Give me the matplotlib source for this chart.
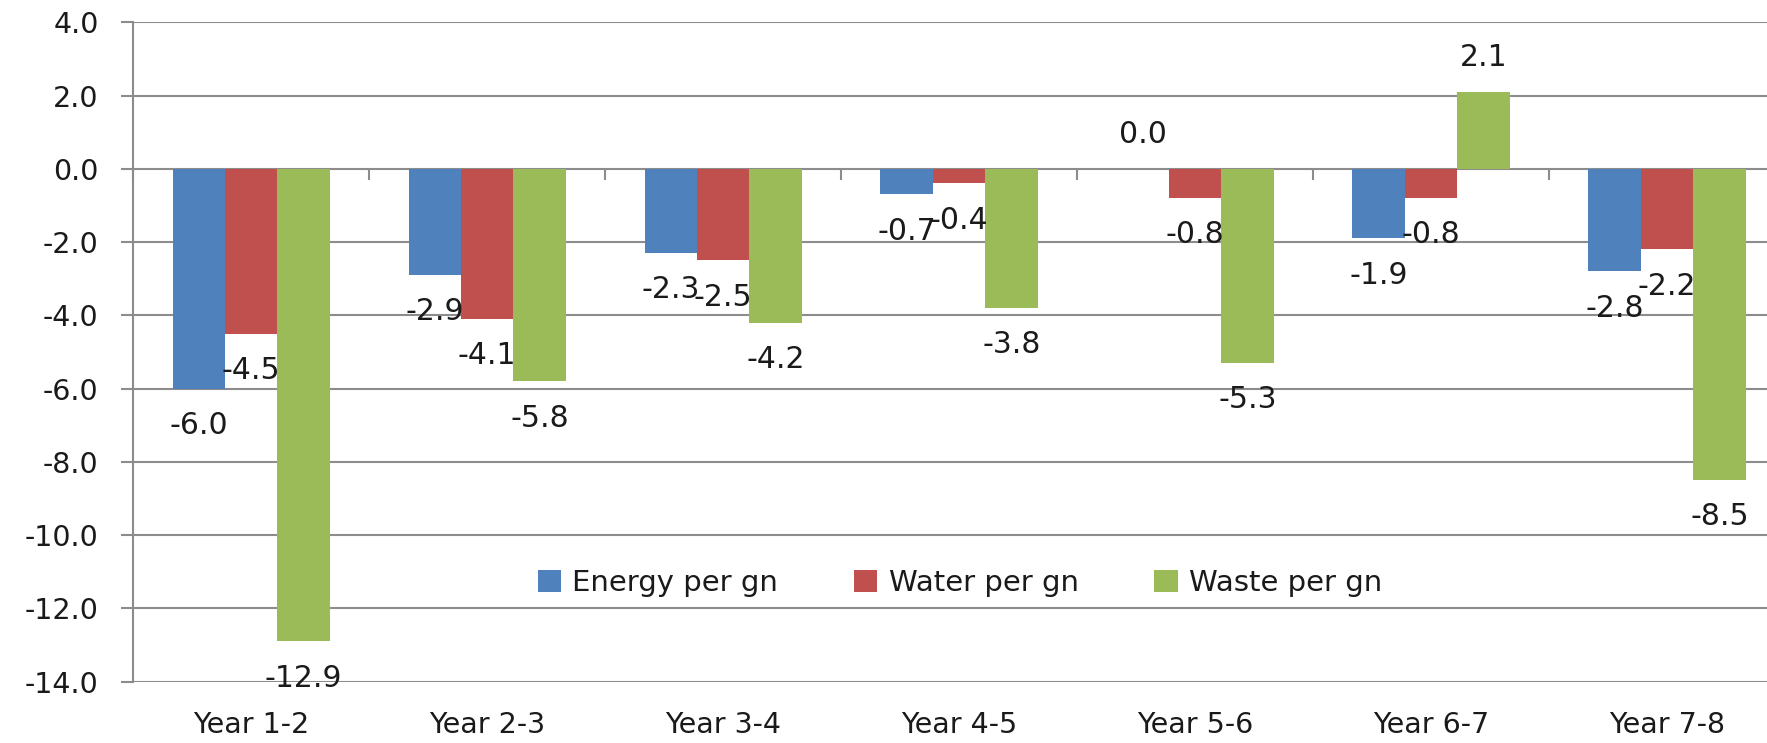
import matplotlib
matplotlib.use("Agg")
import matplotlib.pyplot as plt
import numpy as np
from matplotlib.patches import Patch

categories = ["Year 1-2", "Year 2-3", "Year 3-4", "Year 4-5", "Year 5-6", "Year 6-7", "Year 7-8"]
series_names = ["Energy per gn", "Water per gn", "Waste per gn"]
energy = [-6.0, -2.9, -2.3, -0.7, 0.0, -1.9, -2.8]
water = [-4.5, -4.1, -2.5, -0.4, -0.8, -0.8, -2.2]
waste = [-12.9, -5.8, -4.2, -3.8, -5.3, 2.1, -8.5]
colors = ["#4F81BD", "#C0504D", "#9BBB59"]
y_ticks = [-14.0, -12.0, -10.0, -8.0, -6.0, -4.0, -2.0, 0.0, 2.0, 4.0]

W, H = 1767, 743
fig = plt.figure(figsize=(W / 100, H / 100), dpi=100)
left = 133.3 / W
right = 1785.0 / W
bottom = 1 - 681.7 / H
top = 1 - 22.3 / H
ax = fig.add_axes([left, bottom, right - left, top - bottom])

grid_c = "#8C8C8C"
text_c = "#1A1A1A"
x = np.arange(len(categories))
bw = 1 / 4.5
for i, (vals, name, c) in enumerate(zip([energy, water, waste], series_names, colors)):
    pos = x + (i - 1) * bw
    ax.bar(pos, vals, width=bw, color=c, label=name, zorder=3)
    for px, v in zip(pos, vals):
        if v >= 0:
            ax.annotate(f"{v:.1f}", (px, v), xytext=(0, 14), textcoords="offset points",
                        ha="center", va="bottom", fontsize=21.5, color=text_c, zorder=5)
        else:
            ax.annotate(f"{v:.1f}", (px, v), xytext=(0, -16), textcoords="offset points",
                        ha="center", va="top", fontsize=21.5, color=text_c, zorder=5)

ax.set_xlim(-0.5, len(categories) - 0.5)
ax.set_ylim(-14, 4)
ax.set_yticks(y_ticks)
ax.set_yticklabels([f"{t:.1f}" for t in y_ticks])
ax.yaxis.grid(True, color=grid_c, linewidth=1.5, zorder=0)
ax.set_axisbelow(True)
for s in ["top", "right", "bottom"]:
    ax.spines[s].set_visible(False)
ax.spines["left"].set_color(grid_c)
ax.spines["left"].set_linewidth(1.5)
ax.tick_params(axis="y", length=9, width=1.5, color=grid_c, labelsize=20.5, labelcolor=text_c, pad=16)

ax.set_xticks(x)
ax.set_xticklabels(categories)
ax.tick_params(axis="x", length=0, labelsize=20.5, labelcolor=text_c, pad=21)

# category boundary ticks on the zero line, pointing down
sec = ax.secondary_xaxis(14 / 18)
sec.set_xticks(np.arange(len(categories) + 1) - 0.5)
sec.set_xticklabels([])
sec.tick_params(axis="x", direction="in", length=8, width=1.5, color=grid_c)
for s in sec.spines.values():
    s.set_visible(False)

handles = [Patch(facecolor=c, label=n) for c, n in zip(colors, series_names)]
leg = fig.legend(handles=handles, loc="center", bbox_to_anchor=(960 / W, 1 - 583 / H), ncol=3,
                 frameon=False, handlelength=0.8, handleheight=0.75, handletextpad=0.38,
                 columnspacing=2.6, prop={"size": 21})
for t in leg.get_texts():
    t.set_color(text_c)

fig.savefig("out.png", dpi=100)
